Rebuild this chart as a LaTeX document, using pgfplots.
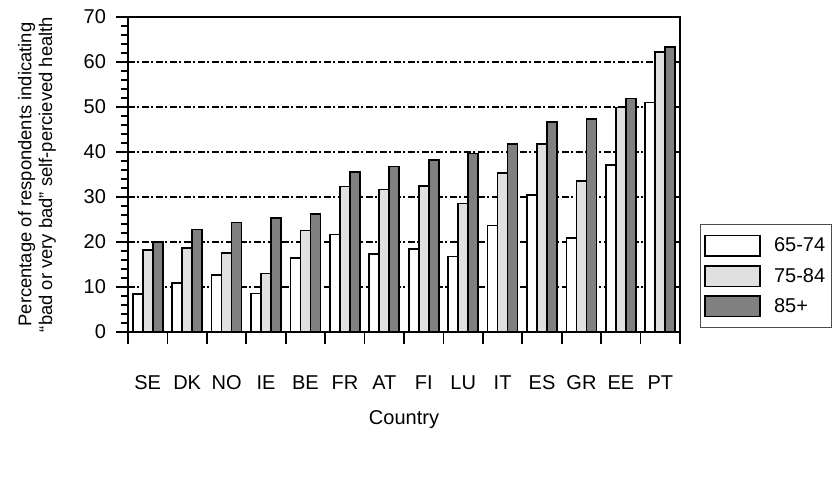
\documentclass[border=0pt]{standalone}
\usepackage{pgfplots}
\pgfplotsset{compat=1.18}
\usepackage{fontspec}
\setmainfont{Liberation Sans}
\newcommand\myfont{\fontsize{15}{18}\selectfont}
\newcommand\ylabfont{\fontsize{13.8}{15.5}\selectfont}
\definecolor{lightbar}{HTML}{E0E0E0}
\definecolor{darkbar}{HTML}{808080}
\pgfplotsset{/pgfplots/ybar legend/.style={/pgfplots/legend image code/.code={\draw[##1,line width=1.2pt] (4.8pt,-7.7pt) rectangle (45.8pt,7.7pt);}}}
\pgfplotstableread{
x a b c
0 8.4 18.2 20.0
1 10.9 18.7 22.8
2 12.7 17.6 24.3
3 8.6 13.0 25.3
4 16.4 22.6 26.2
5 21.7 32.3 35.5
6 17.4 31.7 36.8
7 18.4 32.4 38.2
8 16.8 28.6 39.7
9 23.7 35.3 41.8
10 30.4 41.8 46.7
11 20.9 33.6 47.3
12 37.1 49.9 51.9
13 51.0 62.2 63.3
}\datatable
\begin{document}
\begin{tikzpicture}
\begin{axis}[
  name=ax,
  scale only axis,
  width=414pt, height=236.25pt,
  xmin=-0.5, xmax=13.5, ymin=0, ymax=70,
  ybar=0pt, bar width=7.5pt,
  axis line style={line width=1.5pt},
  every tick/.style={black,line width=1.2pt},
  tick align=outside,
  major tick length=9pt, minor tick length=5pt,
  xtick={-0.5,0.5,...,13.5},
  xticklabels={SE,DK,NO,IE,BE,FR,AT,FI,LU,IT,ES,GR,EE,PT,{}},
  x tick label style={xshift=14.8pt, yshift=-20pt},
  y tick label style={xshift=-4pt},
  xtick pos=bottom,
  ytick={0,10,...,70},
  minor y tick num=4,
  ytick pos=left,
  ymajorgrids,
  major grid style={black,line width=1.2pt,dash pattern=on 5pt off 2pt on 1.5pt off 2pt},
  tick label style={font=\myfont},
  /pgf/number format/assume math mode=true,
  label style={font=\myfont},
  xlabel={Country},
  xlabel style={at={(axis description cs:0.5,-0.279)},anchor=center},
  ylabel={Percentage of respondents indicating\\``bad or very bad'' self-percieved health},
  ylabel style={font=\ylabfont,at={(axis description cs:-0.165,0.5)},anchor=center,align=center},
  legend style={font=\myfont, at={(1.036,0.013)}, anchor=south west,
    draw=black!70, line width=0.8pt, inner xsep=3pt, inner ysep=7.6pt,
    row sep=6pt, cells={anchor=west},
    /tikz/every odd column/.append style={column sep=8pt}},
]
\addplot[fill=white,draw=black,line width=1.2pt] table[x=x,y=a]{\datatable};
\addplot[fill=lightbar,draw=black,line width=1.2pt] table[x=x,y=b]{\datatable};
\addplot[fill=darkbar,draw=black,line width=1.2pt] table[x=x,y=c]{\datatable};
\legend{65-74,75-84,85+}
\end{axis}
\pgfresetboundingbox
\path[use as bounding box] ([xshift=-96pt,yshift=-114.75pt]ax.south west) rectangle ([xshift=117.75pt,yshift=12.75pt]ax.north east);
\end{tikzpicture}
\end{document}
